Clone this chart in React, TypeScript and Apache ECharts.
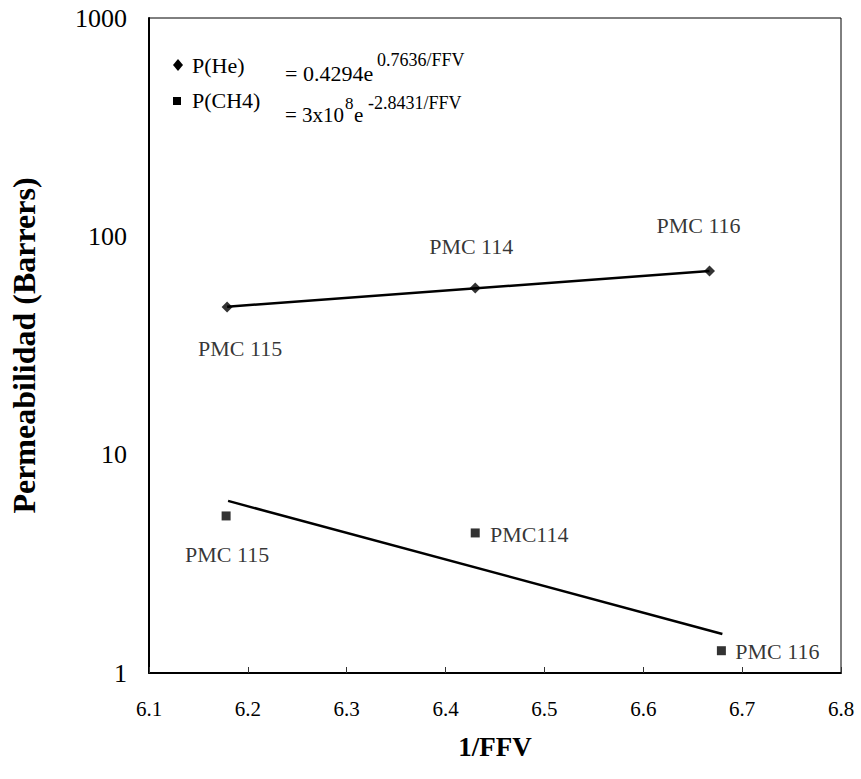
import React, { useEffect, useRef } from "react";
import * as echarts from "echarts";

const yTicks = [1, 10, 100, 1000];
const xTicks = [6.1, 6.2, 6.3, 6.4, 6.5, 6.6, 6.7, 6.8];

const heFFV = [6.179, 6.43, 6.667];
const heValues = [47.5, 58.0, 69.4];
const heLabels = ["PMC 115", "PMC 114", "PMC 116"];

const chFFV = [6.178, 6.43, 6.679];
const chValues = [5.24, 4.38, 1.265];
const chLabels = ["PMC 115", "PMC114", "PMC 116"];

const heTrendX = [6.179, 6.667];
const heTrendY = [47.6, 69.4];
const chTrendX = [6.18, 6.68];
const chTrendY = [6.14, 1.51];

const FONT = "Liberation Serif";

export default function App() {
  const ref = useRef<HTMLDivElement>(null);
  useEffect(() => {
    if (!ref.current) return;
    const chart = echarts.init(ref.current, null, { renderer: "svg" });
    const heOffsets = [[13, 42], [-4, -41], [-11, -45]];
    const chOffsets = [[1, 39], [54, 2], [56, 1]];
    const labelStyle = { fontFamily: FONT, fontSize: 22, color: "#000" };
    const txt = (x: number, y: number, text: string, size: number) => ({
      type: "text",
      x,
      y,
      style: {
        text,
        fontFamily: FONT,
        fontSize: size,
        fill: "#000",
        align: "left",
        verticalAlign: "middle",
      },
    });
    chart.setOption({
      animation: false,
      backgroundColor: "#fff",
      textStyle: { fontFamily: FONT, color: "#000" },
      grid: {
        left: 139,
        top: 18,
        right: 20,
        bottom: 106,
        show: true,
        borderColor: "#000",
        borderWidth: 1,
        backgroundColor: "transparent",
      },
      xAxis: {
        type: "value",
        min: 6.1,
        max: 6.8,
        interval: 0.1,
        name: "1/FFV",
        nameLocation: "middle",
        nameGap: 60,
        nameTextStyle: { fontFamily: FONT, fontSize: 27, fontWeight: "bold", color: "#000" },
        axisLine: { show: true, lineStyle: { color: "#000", width: 2 } },
        axisTick: { show: true, inside: true, length: 6, lineStyle: { color: "#333", width: 1 } },
        axisLabel: {
          margin: 25,
          fontFamily: FONT,
          fontSize: 21,
          color: "#000",
          formatter: (v: number) => {
            const m = xTicks.find((t) => Math.abs(t - v) < 1e-6);
            return m !== undefined ? m.toFixed(1) : "";
          },
        },
        splitLine: { show: false },
      },
      yAxis: {
        type: "log",
        logBase: 10,
        min: yTicks[0],
        max: yTicks[yTicks.length - 1],
        name: "Permeabilidad (Barrers)",
        nameLocation: "middle",
        nameGap: 109,
        nameRotate: 90,
        nameTextStyle: { fontFamily: FONT, fontSize: 32, fontWeight: "bold", color: "#000" },
        axisLine: { show: true, lineStyle: { color: "#000", width: 2 } },
        axisTick: { show: false },
        minorTick: { show: false },
        axisLabel: {
          margin: 22,
          fontFamily: FONT,
          fontSize: 26,
          color: "#000",
          formatter: (v: number) => String(Math.round(v)),
        },
        splitLine: { show: false },
      },
      series: [
        {
          type: "line",
          data: heTrendX.map((x, i) => [x, heTrendY[i]]),
          symbol: "none",
          lineStyle: { color: "#000", width: 2.5 },
          silent: true,
          z: 2,
        },
        {
          type: "line",
          data: chTrendX.map((x, i) => [x, chTrendY[i]]),
          symbol: "none",
          lineStyle: { color: "#000", width: 2.5 },
          silent: true,
          z: 2,
        },
        {
          type: "scatter",
          symbol: "diamond",
          symbolSize: 11,
          itemStyle: { color: "#000" },
          data: heFFV.map((x, i) => ({
            value: [x, heValues[i]],
            label: {
              show: true,
              position: "inside",
              offset: heOffsets[i],
              formatter: heLabels[i],
              ...labelStyle,
            },
          })),
          z: 3,
        },
        {
          type: "scatter",
          symbol: "rect",
          symbolSize: 9,
          itemStyle: { color: "#000" },
          data: chFFV.map((x, i) => ({
            value: [x, chValues[i]],
            label: {
              show: true,
              position: "inside",
              offset: chOffsets[i],
              formatter: chLabels[i],
              ...labelStyle,
            },
          })),
          z: 3,
        },
      ],
      graphic: [
        {
          type: "polygon",
          shape: { points: [[178, 59], [183, 65], [178, 71], [173, 65]] },
          style: { fill: "#000" },
        },
        txt(192, 65, "P(He)", 22),
        txt(285, 73, "= 0.4294e", 22),
        txt(377, 60, "0.7636/FFV", 18),
        {
          type: "rect",
          shape: { x: 173, y: 97, width: 8, height: 8 },
          style: { fill: "#000" },
        },
        txt(192, 100, "P(CH4)", 22),
        txt(285, 115, "= 3x10", 21),
        txt(345, 103, "8", 17),
        txt(354, 115, "e", 21),
        txt(368, 103, "-2.8431/FFV", 18),
      ],
    });
    return () => chart.dispose();
  }, []);
  return <div ref={ref} style={{ width: 861, height: 779, position: "absolute", left: 0, top: 0 }} />;
}
